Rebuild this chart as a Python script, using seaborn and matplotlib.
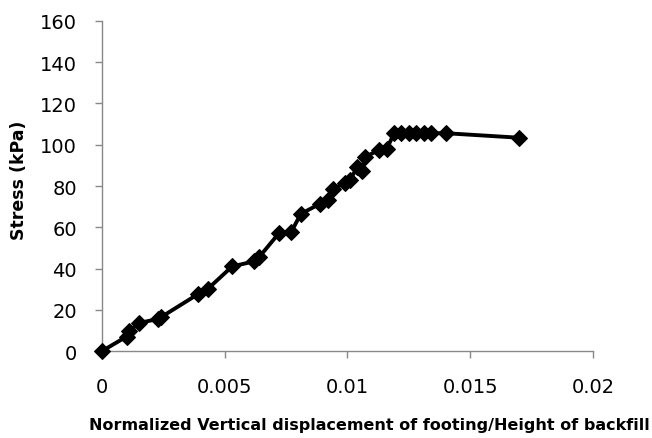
import matplotlib
matplotlib.use("Agg")
import matplotlib.pyplot as plt
import seaborn as sns
import pandas as pd

# ======== DATA ========
displacement = [0.0, 0.001, 0.0011, 0.0015, 0.0023, 0.0024, 0.0039, 0.0043,
                0.0053, 0.0062, 0.0064, 0.0072, 0.0077, 0.0081, 0.0089,
                0.0092, 0.0094, 0.0099, 0.0101, 0.0104, 0.0106, 0.0107,
                0.0113, 0.0116, 0.0119, 0.0122, 0.0125, 0.0128, 0.0131,
                0.0134, 0.0140, 0.0170]
stress = [0.0, 7.0, 9.5, 13.6, 15.6, 16.4, 27.5, 30.0,
          41.0, 43.5, 45.5, 57.0, 57.5, 66.5, 71.5,
          73.0, 78.5, 81.5, 83.0, 89.0, 87.5, 94.0,
          97.5, 98.0, 105.5, 105.6, 105.6, 105.6, 105.6,
          105.6, 105.6, 103.4]
x_ticks = [0, 0.005, 0.01, 0.015, 0.02]
x_tick_labels = ["0", "0.005", "0.01", "0.015", "0.02"]
y_ticks = [0, 20, 40, 60, 80, 100, 120, 140, 160]

df = pd.DataFrame({"disp": displacement, "stress": stress})

# ======== STYLE ========
sns.set_style("white")
plt.rcParams["font.family"] = ["DejaVu Sans"]

fig = plt.figure(figsize=(6.52, 4.39), dpi=100)
ax = fig.add_axes([0.1564, 0.198, 0.753, 0.752])

sns.lineplot(data=df, x="disp", y="stress", ax=ax, color="black",
             linewidth=2.8, marker="D", markersize=8.5, markeredgecolor="black",
             sort=False, estimator=None, clip_on=False, zorder=5)

ax.set_xlim(0, 0.02)
ax.set_ylim(0, 160)
ax.set_xticks(x_ticks)
ax.set_xticklabels(x_tick_labels)
ax.set_yticks(y_ticks)

for side in ["top", "right"]:
    ax.spines[side].set_visible(False)
for side in ["left", "bottom"]:
    ax.spines[side].set_color("#888888")
    ax.spines[side].set_linewidth(1.0)

ax.tick_params(axis="both", which="major", direction="out", length=5,
               width=1.0, color="#888888", labelsize=14, labelcolor="black",
               bottom=True, left=True)
ax.tick_params(axis="x", pad=14)
ax.tick_params(axis="y", pad=13)

ax.set_ylabel("Stress (kPa)", fontsize=12.5, fontweight="bold", color="black",
              va="center")
ax.yaxis.set_label_coords(-0.169, 0.52)
ax.set_xlabel("Normalized Vertical displacement of footing/Height of backfill",
              fontsize=11.5, fontweight="bold", color="black", va="center")
ax.xaxis.set_label_coords(0.544, -0.221)

fig.savefig("out.png", dpi=100)
plt.close(fig)
